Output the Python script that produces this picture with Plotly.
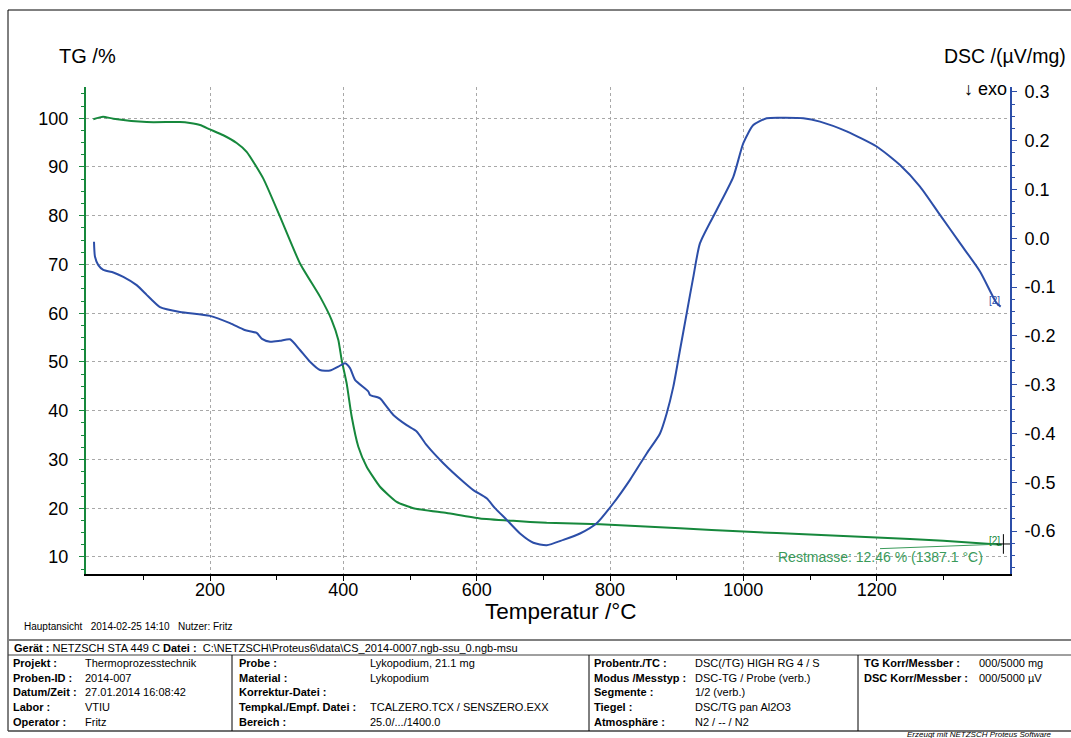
import plotly.graph_objects as go

# ---------------- data ----------------
tg_temp = [25, 39.5, 55, 105, 155, 170, 185, 200, 220, 240, 255, 280, 305, 335, 365,
           382.5, 392.5, 397.5, 405, 412.5, 422.5, 435, 455, 480, 505, 555, 605, 655,
           705, 785, 905, 1000, 1100, 1200, 1300, 1387.5]
tg_mass = [99.8, 100.3, 99.9, 99.2, 99.2, 99.0, 98.6, 97.7, 96.5, 94.9, 93.1, 87.6, 79.8, 70.2, 63.4,
           58.6, 54.5, 50.4, 45.6, 38.8, 32.6, 28.5, 24.4, 21.3, 20.0, 19.0, 17.9, 17.4,
           17.0, 16.7, 15.9, 15.2, 14.6, 14.0, 13.3, 12.5]

dsc_temp = [26, 27.5, 32.5, 40, 55, 70, 90, 105, 112.5, 125, 155, 200, 230, 252, 270, 278,
            290, 305, 320, 335, 350, 365, 380, 392.5, 402.5, 410, 417.5, 437.5, 440, 455, 465,
            475, 495, 510, 525, 550, 580, 595, 615, 627.5, 645, 665, 685, 705, 730, 755,
            780, 805, 830, 855, 875, 885, 895, 905, 915, 925, 935, 960, 985, 1000, 1015,
            1035, 1060, 1090, 1115, 1155, 1200, 1235, 1265, 1295, 1325, 1355, 1380, 1386]
dsc_val = [-0.007, -0.038, -0.055, -0.065, -0.070, -0.079, -0.096, -0.116, -0.126, -0.141,
           -0.151, -0.159, -0.174, -0.188, -0.194, -0.206, -0.212, -0.210, -0.207, -0.229, -0.253,
           -0.270, -0.271, -0.263, -0.256, -0.266, -0.290, -0.314, -0.321, -0.328, -0.345,
           -0.362, -0.383, -0.396, -0.424, -0.461, -0.499, -0.516, -0.533, -0.553, -0.577,
           -0.605, -0.624, -0.629, -0.618, -0.605, -0.584, -0.543, -0.495, -0.441, -0.400,
           -0.359, -0.304, -0.229, -0.154, -0.079, -0.010, 0.058, 0.126, 0.195, 0.232,
           0.246, 0.247, 0.246, 0.239, 0.219, 0.188, 0.150, 0.106, 0.048, -0.010, -0.068,
           -0.133, -0.140]

x_ticks = [200, 400, 600, 800, 1000, 1200]
tg_ticks = [10, 20, 30, 40, 50, 60, 70, 80, 90, 100]
dsc_ticks = [-0.6, -0.5, -0.4, -0.3, -0.2, -0.1, 0.0, 0.1, 0.2, 0.3]
dsc_ticktext = ["-0.6", "-0.5", "-0.4", "-0.3", "-0.2", "-0.1", "0.0", "0.1", "0.2", "0.3"]

residual_mass = 12.46
residual_temp = 1387.1

GREEN = "#16883c"
BLUE = "#2c4ea8"
FONT = "Liberation Sans"

W, H = 1071, 738
L, R, T, B = 86, 1010, 87, 574


def px(x):
    return (x - L) / (R - L)


def py(y):
    return (B - y) / (B - T)


fig = go.Figure()
fig.add_trace(go.Scatter(x=tg_temp, y=tg_mass, mode="lines",
                         line=dict(color=GREEN, width=2, shape="spline", smoothing=0.5),
                         yaxis="y", showlegend=False))
fig.add_trace(go.Scatter(x=dsc_temp, y=dsc_val, mode="lines",
                         line=dict(color=BLUE, width=2, shape="spline", smoothing=0.6),
                         yaxis="y2", showlegend=False))
fig.add_trace(go.Scatter(x=[residual_temp + 3], y=[residual_mass + 0.2], mode="markers",
                         marker=dict(symbol="cross-thin", size=14,
                                     line=dict(color="black", width=1)),
                         yaxis="y", showlegend=False))

fig.update_layout(
    width=W, height=H,
    margin=dict(l=L, r=W - R, t=T, b=H - B),
    paper_bgcolor="white", plot_bgcolor="white",
    font=dict(family=FONT, color="black", size=18),
    xaxis=dict(range=[14, 1400], tickvals=x_ticks, showline=True, linecolor="black",
               linewidth=1.5, ticks="outside", ticklen=5, tickcolor="black",
               showgrid=True, gridcolor="#a8a8a8", griddash="3px,3px", gridwidth=1,
               zeroline=False, tickfont=dict(size=18), ticklabelstandoff=-6,
               minor=dict(tickvals=[100, 300, 500, 700, 900, 1100, 1300], ticks="outside",
                          ticklen=4, tickcolor="black", showgrid=False)),
    yaxis=dict(range=[6.5, 106.4], tickvals=tg_ticks, showline=True, linecolor=GREEN,
               linewidth=2, ticks="outside", ticklen=5, tickcolor=GREEN,
               showgrid=True, gridcolor="#a8a8a8", griddash="3px,3px", gridwidth=1,
               zeroline=False, tickfont=dict(size=18), ticklabelstandoff=7,
               minor=dict(dtick=2.5, tick0=0, ticks="outside", ticklen=3,
                          tickcolor=GREEN, showgrid=False)),
    yaxis2=dict(range=[-0.688, 0.31], overlaying="y", side="right",
                tickvals=dsc_ticks, ticktext=dsc_ticktext, showline=True,
                linecolor=BLUE, linewidth=2, ticks="outside", ticklen=5, tickcolor=BLUE,
                showgrid=False, zeroline=False, tickfont=dict(size=18), ticklabelstandoff=4,
                minor=dict(dtick=0.025, tick0=0, ticks="outside", ticklen=3,
                           tickcolor=BLUE, showgrid=False)),
)

ann = []


def txt(x, y, s, size=11, anchor="left", color="black", bold=False, italic=False):
    if bold:
        s = "<b>" + s + "</b>"
    if italic:
        s = "<i>" + s + "</i>"
    ann.append(dict(x=px(x), y=py(y), xref="paper", yref="paper", text=s, showarrow=False,
                    xanchor=anchor, yanchor="middle",
                    font=dict(family=FONT, size=size, color=color)))


# axis titles
txt(57, 56, "TG /%", size=20)
txt(1068, 56, "DSC /(µV/mg)", size=19.5, anchor="right")
txt(1009, 89, "↓ exo", size=18, anchor="right")
txt(561, 611, "Temperatur /°C", size=22.5, anchor="center")

# in-plot labels
ann.append(dict(x=1205, y=10, xref="x", yref="y",
                text=f"Restmasse: {residual_mass:.2f} % ({residual_temp:.1f} °C)",
                showarrow=False, xanchor="center", yanchor="middle",
                font=dict(family=FONT, size=14, color="#3a9a5a")))
ann.append(dict(x=px(994), y=py(540), xref="paper", yref="paper", text="[2]",
                showarrow=False, xanchor="center", yanchor="middle",
                font=dict(family=FONT, size=10, color=GREEN)))
ann.append(dict(x=px(994), y=py(300), xref="paper", yref="paper", text="[2]",
                showarrow=False, xanchor="center", yanchor="middle",
                font=dict(family=FONT, size=10, color=BLUE)))

# footer line
txt(22, 626, "Hauptansicht&nbsp;&nbsp;&nbsp;2014-02-25 14:10&nbsp;&nbsp;&nbsp;Nutzer: Fritz", size=10)

# info table
txt(12, 648, "<b>Gerät :</b> NETZSCH STA 449 C <b>Datei :</b>&nbsp;&nbsp;C:\\NETZSCH\\Proteus6\\data\\CS_2014-0007.ngb-ssu_0.ngb-msu", size=11)

rows_y = [663, 678, 692, 707, 722]
col1_lab = ["Projekt :", "Proben-ID :", "Datum/Zeit :", "Labor :", "Operator :"]
col1_val = ["Thermoprozesstechnik", "2014-007", "27.01.2014 16:08:42", "VTIU", "Fritz"]
col2_lab = ["Probe :", "Material :", "Korrektur-Datei :", "Tempkal./Empf. Datei :", "Bereich :"]
col2_val = ["Lykopodium, 21.1 mg", "Lykopodium", "", "TCALZERO.TCX / SENSZERO.EXX", "25.0/.../1400.0"]
col3_lab = ["Probentr./TC :", "Modus /Messtyp :", "Segmente :", "Tiegel :", "Atmosphäre :"]
col3_val = ["DSC(/TG) HIGH RG 4 / S", "DSC-TG / Probe (verb.)", "1/2 (verb.)", "DSC/TG pan Al2O3", "N2 / -- / N2"]
col4_lab = ["TG Korr/Messber :", "DSC Korr/Messber :"]
col4_val = ["000/5000 mg", "000/5000 µV"]

for i, y in enumerate(rows_y):
    txt(11, y, col1_lab[i], bold=True)
    txt(83, y, col1_val[i])
    txt(237, y, col2_lab[i], bold=True)
    txt(368, y, col2_val[i])
    txt(592, y, col3_lab[i], bold=True)
    txt(693, y, col3_val[i])
for i, y in enumerate(rows_y[:2]):
    txt(862, y, col4_lab[i], bold=True)
    txt(977, y, col4_val[i])

txt(905, 734, "Erzeugt mit NETZSCH Proteus Software", size=8, italic=True)

shapes = []


def line(x0, y0, x1, y1, color="black", width=1):
    shapes.append(dict(type="line", xref="paper", yref="paper", x0=px(x0), y0=py(y0),
                       x1=px(x1), y1=py(y1), line=dict(color=color, width=width)))


line(8, 10, 1075, 10)
line(8, 10, 8, 731)
line(8, 640, 1075, 640, color="#808080", width=2)
line(8, 655, 1075, 655, color="#404040", width=1)
line(8, 731, 1075, 731, color="#404040", width=1.5)
for xc in [232, 589, 858]:
    line(xc, 655, xc, 731)
# leader line of the residual mass annotation
shapes.append(dict(type="line", xref="x", yref="y", x0=1205, y0=11.7, x1=1380, y1=12.6,
                   line=dict(color="#3a9a5a", width=1)))

fig.update_layout(annotations=ann, shapes=shapes)
fig.write_html("out.html", config={"displayModeBar": False})

# remove the default page margin so the figure sits at the window's top-left corner
with open("out.html", encoding="utf-8") as f:
    html = f.read()
html = html.replace("<head>", "<head><style>html,body{margin:0;padding:0;}</style>", 1)
with open("out.html", "w", encoding="utf-8") as f:
    f.write(html)
